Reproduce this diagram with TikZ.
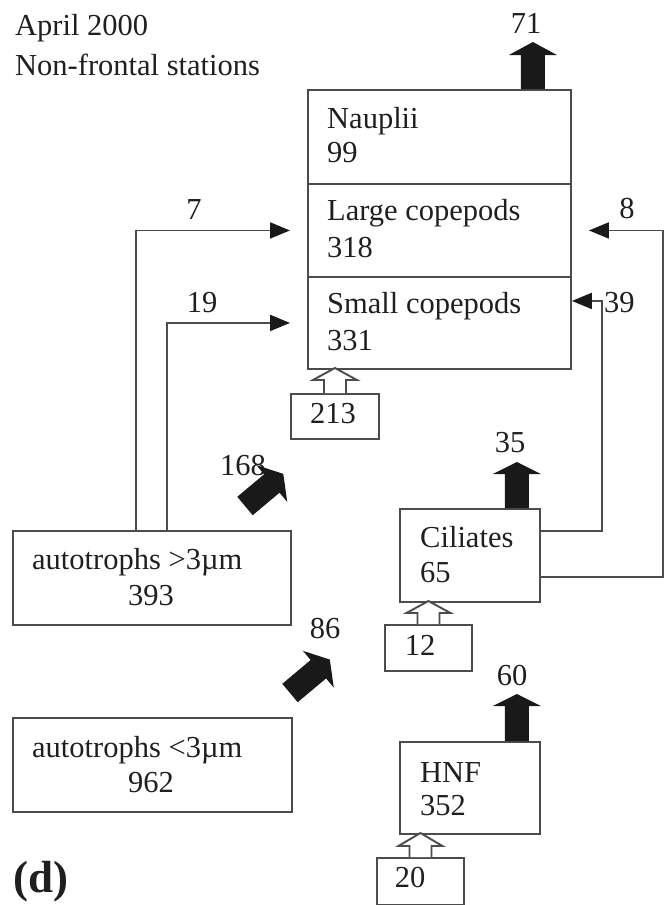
\documentclass[tikz,border=0pt]{standalone}
\usepackage{fontspec}
\setmainfont{Liberation Serif}
\usetikzlibrary{arrows.meta}
\newcommand\fatarrow[4]{% tail point, angle, length, head length
  \fill[black!90, shift={#1}, rotate=#2] (0,-12) -- (#3-#4,-12) -- (#3-#4,-24) -- (#3,0) -- (#3-#4,24) -- (#3-#4,12) -- (0,12) -- cycle;}
\newcommand\hollowarrow[3]{% source node, shaft, head
  \draw[hol] ([xshift=-11pt]#1.north) -- ++(0,-#2) -- ++(-11,0) -- ++(22,-#3) -- ++(22,#3) -- ++(-11,0) -- ++(0,#2);}
\begin{document}
\begin{tikzpicture}[x=1pt,y=-1pt,
  box/.style={draw=black!70, line width=1.9pt, rectangle, inner sep=0pt, anchor=north west},
  hol/.style={draw=black!70, line width=1.9pt, fill=white},
  lbl/.style={inner sep=0pt, anchor=base west, text=black!88, font=\fontsize{30.5}{36}\selectfont},
  num/.style={inner sep=0pt, anchor=base, text=black!88, font=\fontsize{30.5}{36}\selectfont},
  flow/.style={draw=black!70, line width=1.9pt, -{Triangle[length=20pt,width=16pt,color=black!90]}}]
\useasboundingbox (0,0) rectangle (664,905);

% title
\node[lbl] (t1) at (15,35) {April 2000};
\node[lbl] (t2) at (15,75) {Non-frontal stations};

% boxes
\node[box, minimum width=263pt, minimum height=94pt] (nau) at (307,89) {};
\node[box, minimum width=263pt, minimum height=93pt] (lcop) at (307,183) {};
\node[box, minimum width=263pt, minimum height=92pt] (scop) at (307,276) {};
\node[box, minimum width=88pt, minimum height=45pt] (b213) at (290,393) {};
\node[box, minimum width=278pt, minimum height=94pt] (atA) at (12,530) {};
\node[box, minimum width=140pt, minimum height=93pt] (cil) at (399,508) {};
\node[box, minimum width=87pt, minimum height=46pt] (b12) at (384,624) {};
\node[box, minimum width=279pt, minimum height=94pt] (atB) at (12,717) {};
\node[box, minimum width=140pt, minimum height=92pt] (hnf) at (399,741) {};
\node[box, minimum width=87pt, minimum height=47pt] (b20) at (376,857) {};

% box texts
\node[lbl] (l1) at (327,128) {Nauplii};
\node[lbl] (l2) at (327,162) {99};
\node[lbl] (l3) at (327,220) {Large copepods};
\node[lbl] (l4) at (327,257) {318};
\node[lbl] (l5) at (327,313) {Small copepods};
\node[lbl] (l6) at (327,350) {331};
\node[num] (l7) at (333,423) {213};
\node[lbl] (l8) at (32,569) {autotrophs >3µm};
\node[num] (l9) at (151,605) {393};
\node[lbl] (l10) at (420,547) {Ciliates};
\node[lbl] (l11) at (420,582) {65};
\node[num] (l12) at (420,655) {12};
\node[lbl] (l13) at (32,757) {autotrophs <3µm};
\node[num] (l14) at (151,792) {962};
\node[lbl] (l15) at (420,782) {HNF};
\node[lbl] (l16) at (420,815) {352};
\node[num] (l17) at (410,887) {20};

% flow labels
\node[num] (n71) at (526,33) {71};
\node[num] (n35) at (510,452) {35};
\node[num] (n60) at (512,685) {60};
\node[lbl] (n168) at (220,475) {168};
\node[num] (n86) at (325,638) {86};
\node[num] (n8) at (627,218) {8};
\node[lbl] (n39) at (604,312) {39};
\node[num] (n7) at (194,219) {7};
\node[num] (n19) at (202,312) {19};
\node[inner sep=0pt, anchor=base west, text=black!88, font=\fontsize{45}{50}\selectfont\bfseries] (lab) at (13,892) {(d)};

% line connectors
\draw[flow] ([xshift=124pt]atA.north west) |- ([xshift=-17pt]lcop.west);
\draw[flow] ([xshift=155pt]atA.north west) |- ([xshift=-17pt]scop.west);
\draw[flow] ([yshift=-23pt]cil.north east) -- ++(61,0) |- ([yshift=22pt]scop.east);
\draw[flow] ([yshift=-69pt]cil.north east) -- ++(122,0) |- ([xshift=17pt]lcop.east);

% fat output arrows
\fatarrow{([xshift=-39pt]nau.north east)}{90}{47}{13}
\fatarrow{([xshift=-24pt]cil.north east)}{90}{46}{12}
\fatarrow{([xshift=-24pt]hnf.north east)}{90}{47}{12}
\coordinate (g168) at (245,506);
\coordinate (g86) at (290,693);
\fatarrow{(g168)}{40}{50}{15}
\fatarrow{(g86)}{40}{52}{15}

% hollow input arrows
\hollowarrow{b213}{13}{12}
\hollowarrow{b12}{11}{12}
\hollowarrow{b20}{11}{13}
\end{tikzpicture}
\end{document}
